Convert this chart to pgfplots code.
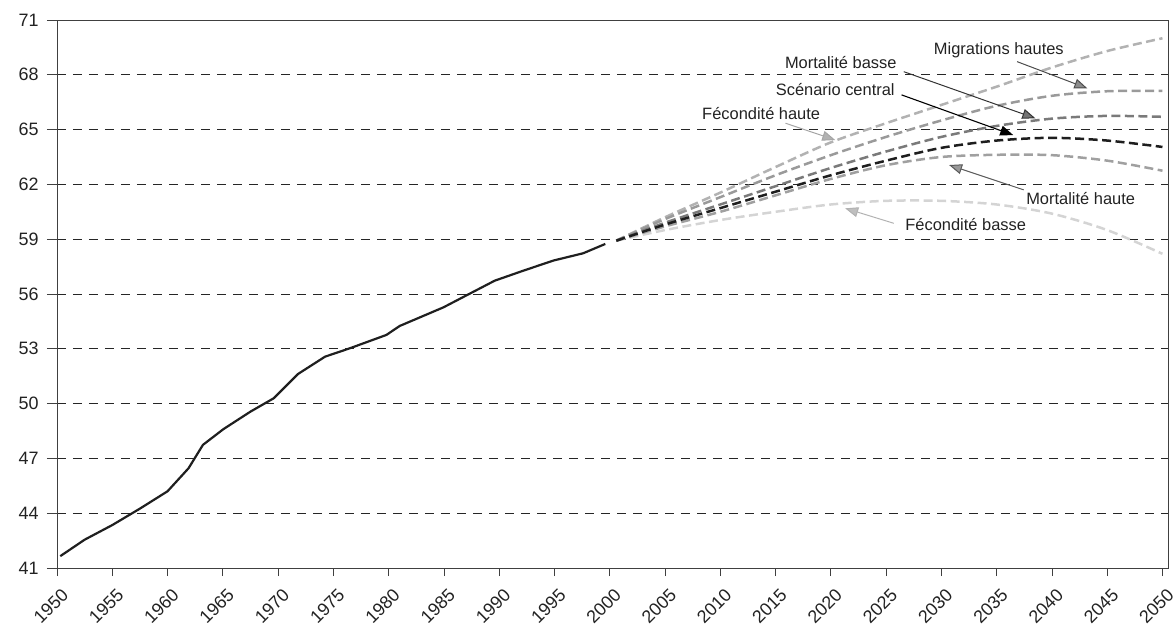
\documentclass[border=0pt]{standalone}
\usepackage{fontspec}
\setmainfont{Liberation Sans}
\usepackage{pgfplots}
\pgfplotsset{compat=1.18}
\usetikzlibrary{arrows.meta}

\definecolor{fhaute}{HTML}{B2B2B2}
\definecolor{mighaute}{HTML}{9A9A9A}
\definecolor{mortbasse}{HTML}{7A7A7A}
\definecolor{central}{HTML}{1E1E1E}
\definecolor{morthaute}{HTML}{A0A0A0}
\definecolor{fbasse}{HTML}{D4D4D4}
\definecolor{txt}{HTML}{222222}

\begin{document}
\begin{tikzpicture}
\useasboundingbox (-57bp,-58bp) rectangle (1117bp,568bp);
\begin{axis}[
  at={(0,0)}, anchor=origin,
  scale only axis,
  width=1111bp, height=548bp,
  xmin=1950, xmax=2050.5,
  ymin=41, ymax=71,
  xtick={1950,1955,...,2050},
  ytick={41,44,...,71},
  xtick pos=bottom, ytick pos=left,
  tick align=outside,
  xtick style={/pgfplots/major tick length=8bp},
  ytick style={/pgfplots/major tick length=10bp},
  tick style={line width=0.8bp, color=black!75},
  axis line style={line width=0.9bp, color=black!75},
  ymajorgrids=true,
  grid style={line width=0.8bp, color=black!85, dash pattern=on 9bp off 7bp},
  /pgf/number format/1000 sep={},
  /pgf/number format/assume math mode=true,
  tick label style={font=\fontsize{18}{18}\selectfont, color=txt},
  xticklabel style={rotate=45, anchor=north east, inner sep=0pt, xshift=-8bp, yshift=-13bp},
  yticklabel style={inner sep=0pt, xshift=-14bp},
  clip=false,
]
% observed
\addplot[line width=2.2bp, color=black!88] coordinates {
  (1950.3,41.65) (1952.5,42.55) (1955,43.35) (1957.5,44.25) (1960,45.2)
  (1961.9,46.46) (1963.2,47.74) (1965.05,48.6) (1967.5,49.56) (1969.6,50.29)
  (1971.8,51.62) (1974.25,52.57) (1976.5,53.03) (1979.8,53.76) (1981.0,54.25)
  (1984.96,55.27) (1987.5,56.07) (1989.6,56.73) (1992.2,57.28) (1994.9,57.83)
  (1997.6,58.23) (1999.6,58.74)
};
% projections
\addplot[line width=2.5bp, color=fbasse, dash pattern=on 9bp off 4.5bp, smooth] coordinates {
  (2000.6,58.92) (2005,59.5) (2010,60.05) (2015,60.5) (2020,60.9) (2025,61.1)
  (2030,61.1) (2035,60.9) (2040,60.4) (2045,59.5) (2050,58.2)
};
\addplot[line width=2.5bp, color=fhaute, dash pattern=on 9bp off 4.5bp, smooth] coordinates {
  (2000.6,58.92) (2005,60.2) (2010,61.55) (2015,62.95) (2020,64.3) (2025,65.35)
  (2030,66.35) (2035,67.35) (2040,68.4) (2045,69.3) (2050,70.0)
};
\addplot[line width=2.5bp, color=mighaute, dash pattern=on 9bp off 4.5bp, smooth] coordinates {
  (2000.6,58.92) (2005,60.1) (2010,61.3) (2015,62.5) (2020,63.6) (2025,64.6)
  (2030,65.5) (2035,66.3) (2040,66.85) (2045,67.1) (2050,67.12)
};
\addplot[line width=2.5bp, color=mortbasse, dash pattern=on 9bp off 4.5bp, smooth] coordinates {
  (2000.6,58.92) (2005,59.9) (2010,60.9) (2015,61.9) (2020,62.9) (2025,63.8)
  (2030,64.6) (2035,65.2) (2040,65.6) (2045,65.75) (2050,65.7)
};
\addplot[line width=2.5bp, color=morthaute, dash pattern=on 9bp off 4.5bp, smooth] coordinates {
  (2000.6,58.92) (2005,59.7) (2010,60.5) (2015,61.4) (2020,62.3) (2025,63.05)
  (2030,63.5) (2035,63.62) (2040,63.6) (2045,63.3) (2050,62.75)
};
\addplot[line width=2.5bp, color=central, dash pattern=on 9bp off 4.5bp, smooth] coordinates {
  (2000.6,58.92) (2005,59.8) (2010,60.7) (2015,61.6) (2020,62.5) (2025,63.3)
  (2030,64.0) (2035,64.4) (2040,64.55) (2045,64.4) (2050,64.05)
};
% labels and arrows
\begin{scope}[font=\fontsize{16.5}{16.5}\selectfont, text=txt]
\node at (axis cs:2035.2,69.32) {Migrations hautes};
\node at (axis cs:2020.9,68.66) {Mortalité basse};
\node at (axis cs:2020.4,67.17) {Scénario central};
\node at (axis cs:2013.7,65.89) {Fécondité haute};
\node at (axis cs:2042.6,61.24) {Mortalité haute};
\node at (axis cs:2032.2,59.83) {Fécondité basse};
\end{scope}
\draw[line width=1bp, color=black!70, -{Triangle[length=13bp,width=10bp,fill=black!45]}]
  (axis cs:2036.85,68.72) -- (axis cs:2043.2,67.26);
\draw[line width=1bp, color=black!80, -{Triangle[length=13bp,width=10bp,fill=black!55]}]
  (axis cs:2026.6,68.17) -- (axis cs:2038.5,65.62);
\draw[line width=1.1bp, color=black, -{Triangle[length=13bp,width=10bp,fill=black]}]
  (axis cs:2026.4,66.9) -- (axis cs:2036.5,64.7);
\draw[line width=1bp, color=black!35, -{Triangle[length=13bp,width=10bp,fill=black!30]}]
  (axis cs:2015.9,65.35) -- (axis cs:2020.4,64.43);
\draw[line width=1bp, color=black!65, -{Triangle[length=13bp,width=10bp,fill=black!40]}]
  (axis cs:2037.45,61.7) -- (axis cs:2030.7,63.06);
\draw[line width=1bp, color=black!30, -{Triangle[length=13bp,width=10bp,fill=black!25]}]
  (axis cs:2025.7,59.87) -- (axis cs:2021.3,60.69);
\end{axis}
\end{tikzpicture}
\end{document}
